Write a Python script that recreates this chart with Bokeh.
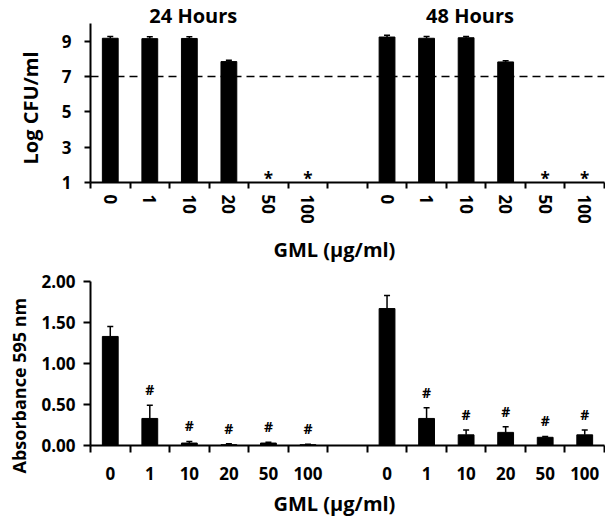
from bokeh.plotting import figure
from bokeh.models import (Range1d, FixedTicker, Span, Whisker, TeeHead,
                          ColumnDataSource, Title)
from bokeh.layouts import column
from bokeh.embed import file_html
from bokeh.resources import INLINE
from bokeh.core.properties import value

# ---------------- data ----------------
doses = ["0", "1", "10", "20", "50", "100"]
groups = ["24 Hours", "48 Hours"]

cfu_24 = [9.17, 9.15, 9.16, 7.85, 1.0, 1.0]
cfu_24_err = [0.10, 0.10, 0.10, 0.07, 0.0, 0.0]
cfu_48 = [9.24, 9.17, 9.20, 7.83, 1.0, 1.0]
cfu_48_err = [0.10, 0.10, 0.07, 0.07, 0.0, 0.0]
cfu_star = [False, False, False, False, True, True]
cfu_threshold = 7
cfu_ticks = [1, 3, 5, 7, 9]

abs_24 = [1.33, 0.33, 0.03, 0.01, 0.03, 0.01]
abs_24_err = [0.12, 0.16, 0.02, 0.01, 0.01, 0.005]
abs_48 = [1.67, 0.33, 0.13, 0.16, 0.10, 0.13]
abs_48_err = [0.16, 0.13, 0.06, 0.07, 0.01, 0.06]
abs_hash = [False, True, True, True, True, True]
abs_ticks = [0.0, 0.5, 1.0, 1.5, 2.0]

x_label = "GML (µg/ml)"
y_label_top = "Log CFU/ml"
y_label_bottom = "Absorbance 595 nm"

# ---------------- layout helpers ----------------
FONT = "Open Sans"
n_slots = 2 * len(doses) + 1
xs = [i + 0.5 for i in range(len(doses))] + [i + len(doses) + 1.5 for i in range(len(doses))]
labels = {x: d for x, d in zip(xs, doses + doses)}


def style_fig(p, ylabels_fmt, ytick_vals, ybounds, x_vertical):
    p.xgrid.grid_line_color = None
    p.ygrid.grid_line_color = None
    p.outline_line_color = None
    p.background_fill_color = "white"
    p.border_fill_color = "white"
    xa = p.xaxis[0]
    xa.ticker = FixedTicker(ticks=xs, minor_ticks=list(range(n_slots + 1)))
    xa.major_label_overrides = labels
    xa.major_tick_line_color = None
    xa.major_tick_in = 0
    xa.minor_tick_in = 0
    xa.minor_tick_line_color = "black"
    xa.minor_tick_line_width = 2
    xa.axis_line_width = 2
    xa.axis_line_color = "black"
    xa.major_label_text_font = FONT
    xa.major_label_text_font_style = "bold"
    xa.major_label_text_font_size = "17px"
    xa.major_label_text_color = "black"
    if x_vertical:
        xa.major_label_orientation = "vertical"
    ya = p.yaxis[0]
    ya.ticker = FixedTicker(ticks=ytick_vals)
    ya.bounds = ybounds
    ya.major_label_overrides = {v: ylabels_fmt(v) for v in ytick_vals}
    ya.minor_tick_line_color = None
    ya.major_tick_in = 0
    ya.major_tick_line_width = 2
    ya.axis_line_width = 2
    ya.axis_line_color = "black"
    ya.major_label_text_font = FONT
    ya.major_label_text_font_style = "bold"
    ya.major_label_text_font_size = "17px"
    ya.major_label_text_color = "black"


def side_title(text, size, align, offset, valign, standoff):
    return Title(text=text, align=align, offset=offset, vertical_align=valign,
                 standoff=standoff, text_font=FONT, text_font_style="bold",
                 text_font_size=size, text_color="black")


# ---------------- top chart ----------------
p1 = figure(width=605, height=270, output_backend="svg", toolbar_location=None,
            x_range=Range1d(0, n_slots), y_range=Range1d(1, 11.31),
            min_border_left=88, min_border_right=1, min_border_top=0,
            min_border_bottom=87)
style_fig(p1, lambda v: str(int(v)), cfu_ticks, (1, 10), True)
p1.xaxis.minor_tick_out = 6
p1.xaxis.major_tick_out = 6
p1.xaxis.major_label_standoff = 6
p1.yaxis.major_tick_out = 6
p1.yaxis.major_label_standoff = 13

top_vals = cfu_24 + cfu_48
top_err = cfu_24_err + cfu_48_err
src1 = ColumnDataSource(dict(x=xs, top=top_vals, base=[1] * len(xs)))
p1.vbar(x="x", top="top", bottom="base", width=0.4, source=src1,
        fill_color="black", line_color="black")
ex = [x for x, e in zip(xs, top_err) if e > 0]
et = [t for t, e in zip(top_vals, top_err) if e > 0]
eu = [t + e for t, e in zip(top_vals, top_err) if e > 0]
esrc1 = ColumnDataSource(dict(x=ex, lower=et, upper=eu))
p1.add_layout(Whisker(source=esrc1, base="x", lower="lower", upper="upper",
                      dimension="height", line_width=1.5, line_color="black",
                      upper_head=TeeHead(size=6, line_width=1.5, line_color="black"),
                      lower_head=None, level="glyph"))
p1.add_layout(Span(location=cfu_threshold, dimension="width", line_color="black",
                   line_width=1.5, line_dash="8 5"))
stars = cfu_star + cfu_star
sx = [x for x, s in zip(xs, stars) if s]
sy = [t + 0.25 for t, s in zip(top_vals, stars) if s]
p1.text(x=sx, y=sy, text=["*"] * len(sx), text_align="center", text_baseline="middle",
        text_font=value(FONT), text_font_style="bold", text_font_size="17px",
        text_color="black")
tx = [2.6, 9.6]
p1.text(x=tx, y=[10.46, 10.46], text=groups, text_align="center", text_baseline="middle",
        text_font=value(FONT), text_font_style="bold", text_font_size="20px",
        text_color="black")
p1.add_layout(side_title(y_label_top, "20px", "left", 18, "middle", 28), "left")
p1.add_layout(side_title(x_label, "20px", "left", 183, "bottom", 15), "below")

# ---------------- bottom chart ----------------
p2 = figure(width=605, height=254, output_backend="svg", toolbar_location=None,
            x_range=Range1d(0, n_slots), y_range=Range1d(0, 2),
            min_border_left=88, min_border_right=1, min_border_top=11,
            min_border_bottom=79)
style_fig(p2, lambda v: "%.2f" % v, abs_ticks, (0, 2), False)
p2.xaxis.minor_tick_out = 7
p2.xaxis.major_tick_out = 7
p2.xaxis.major_label_standoff = 14
p2.yaxis.major_tick_out = 7
p2.yaxis.major_label_standoff = 8

bot_vals = abs_24 + abs_48
bot_err = abs_24_err + abs_48_err
src2 = ColumnDataSource(dict(x=xs, top=bot_vals, base=[0] * len(xs),
                             upper=[t + e for t, e in zip(bot_vals, bot_err)]))
p2.vbar(x="x", top="top", bottom="base", width=0.4, source=src2,
        fill_color="black", line_color="black")
p2.add_layout(Whisker(source=src2, base="x", lower="top", upper="upper",
                      dimension="height", line_width=1.5, line_color="black",
                      upper_head=TeeHead(size=6, line_width=1.5, line_color="black"),
                      lower_head=None, level="glyph"))
hashes = abs_hash + abs_hash
hx = [x for x, h in zip(xs, hashes) if h]
hy = [t + e + 0.19 for t, e, h in zip(bot_vals, bot_err, hashes) if h]
p2.text(x=hx, y=hy, text=["#"] * len(hx), text_align="center", text_baseline="middle",
        text_font=value(FONT), text_font_style="bold", text_font_size="14px",
        text_color="black")
p2.add_layout(side_title(y_label_bottom, "18px", "left", -28, "top", 12), "left")
p2.add_layout(side_title(x_label, "20px", "left", 183, "bottom", 10), "below")

layout = column(p1, p2, spacing=0)
open("out.html", "w").write(file_html(layout, INLINE))
